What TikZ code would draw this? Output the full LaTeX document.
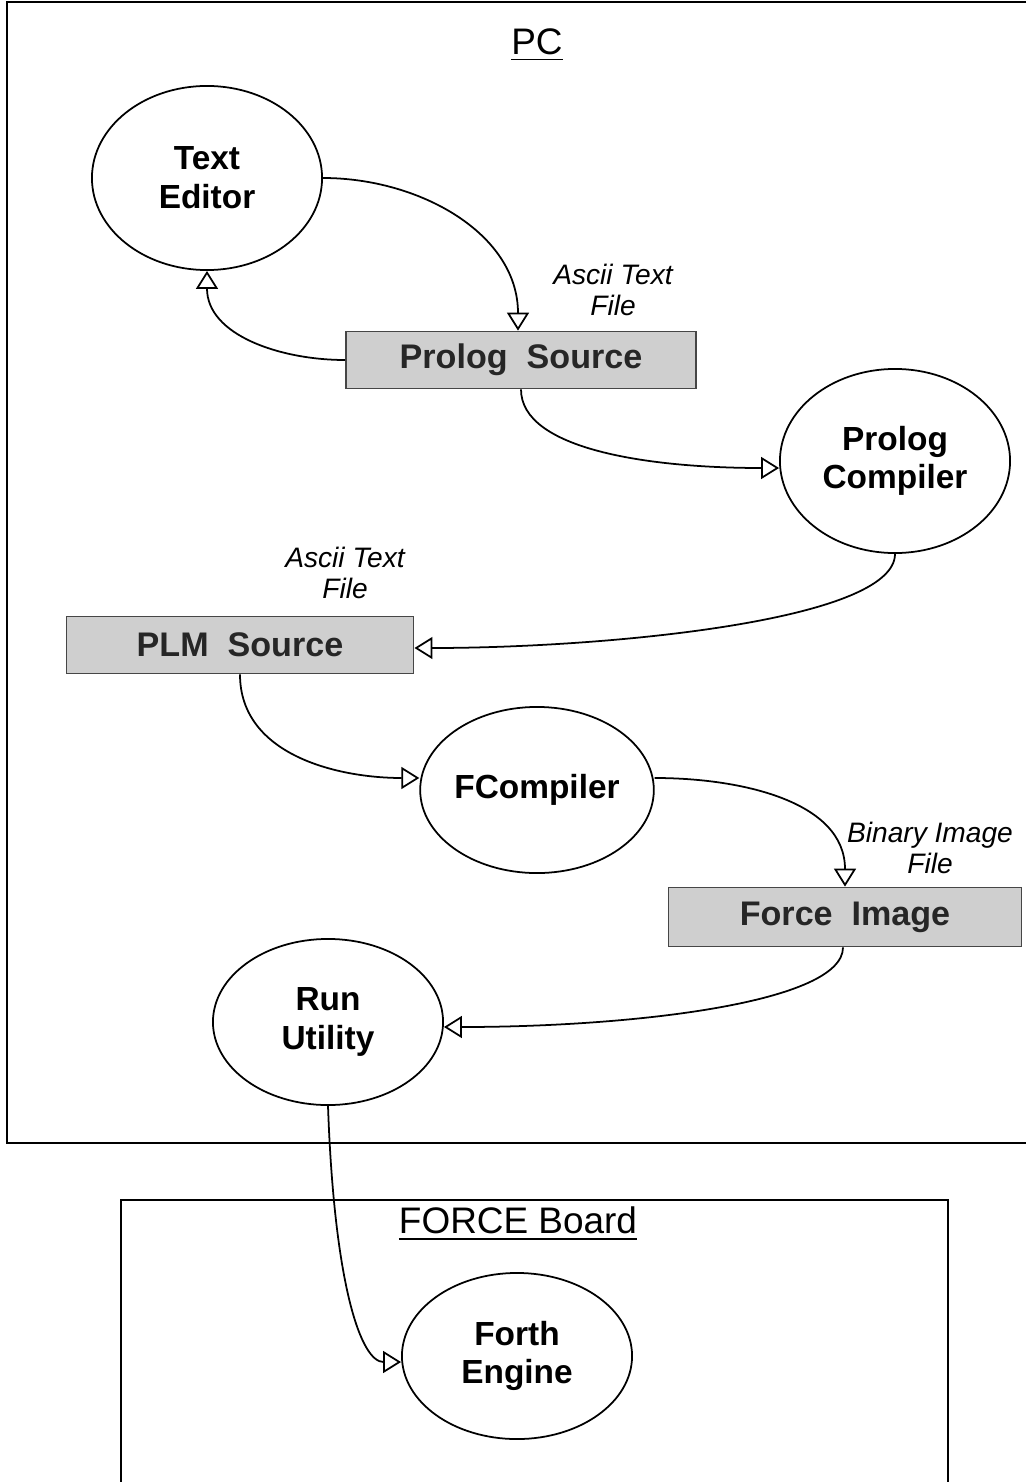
\documentclass[tikz,border=0pt]{standalone}
\usepackage{fontspec}
\setmainfont{Liberation Sans}
\usepackage{tikz}
\usetikzlibrary{arrows.meta}
\usetikzlibrary{shapes.geometric}
\usetikzlibrary{positioning}
\tikzset{
  proc_e/.style = {ellipse, draw=black, inner sep=0pt, align=center,
    minimum width=2.3cm, minimum height=1.66cm,
    font=\fontsize{9.5}{11}\selectfont\bfseries},% processus
  proc_t/.style = {proc_e, minimum height=1.84cm},% processus, haut
  file_b/.style = {rectangle, draw=gray!55!black, fill=gray!38,
    minimum width=3.5cm, minimum height=0.57cm, inner sep=0pt,
    text=black!85, font=\fontsize{9.7}{11}\selectfont\bfseries},% fichier
  file_l/.style = {align=center, inner sep=0pt,
    font=\fontsize{8}{9}\selectfont\itshape},% type de fichier
  frame_l/.style = {inner sep=0pt, font=\fontsize{10.5}{12}\selectfont}% cadre
}

\begin{document}
\begin{tikzpicture}[->,>={Triangle[open,length=1.8mm,width=2.2mm]},
  x=0.01cm,y=0.01cm,line width=0.5pt]
\useasboundingbox (0,0) rectangle (1026,-1482);

% cadres
\draw[-] (1026,-2) -- (7,-2) -- (7,-1143) -- (1026,-1143);
\draw[-] (121,-1482) -- (121,-1200) -- (948,-1200) -- (948,-1482);
\node[frame_l] (pc) at (537,-45) {\underline{PC}};
\node[frame_l] (fb) at (518,-1224) {\underline{FORCE Board}};

% noeuds
\node[proc_t] (te) at (207,-178) {Text\\Editor};
\node[file_b] (ps) at (521,-360) {Prolog\ \ Source};
\node[proc_t] (pcomp) at (895,-461) {Prolog\\Compiler};
\node[file_b, minimum width=3.47cm] (plm) at (240,-645) {PLM\ \ Source};
\node[proc_e] (fc) at (537,-790) {FCompiler};
\node[file_b, minimum width=3.53cm, minimum height=0.59cm] (fi) at (845,-917) {Force\ \ Image};
\node[proc_e] (ru) at (328,-1022) {Run\\Utility};
\node[proc_e] (fe) at (517,-1356) {Forth\\Engine};

\node[file_l] (l1) at (613,-290) {Ascii Text\\File};
\node[file_l] (l2) at (345,-573) {Ascii Text\\File};
\node[file_l] (l3) at (930,-848) {Binary Image\\File};

% fleches
\draw (te.east) to[out=0,in=90] ([xshift=-0.03cm]ps.north);
\draw (ps.west) to[out=180,in=-90] (te.south);
\draw (ps.south) to[out=-90,in=180,out distance=0.6cm,in distance=1.3cm] ([yshift=-0.07cm]pcomp.west);
\draw (pcomp.south) to[out=-90,in=0,out distance=0.67cm,in distance=1.9cm] ([yshift=-0.03cm]plm.east);
\draw (plm.south) to[out=-90,in=180] ([yshift=0.12cm]fc.west);
\draw ([yshift=0.12cm]fc.east) to[out=0,in=90] (fi.north);
\draw ([xshift=-0.02cm]fi.south) to[out=-90,in=0,out distance=0.55cm,in distance=1.9cm] ([yshift=-0.05cm]ru.east);
\draw (ru.south) to[out=-88,in=180,out distance=1.8cm,in distance=0.4cm] ([yshift=-0.06cm]fe.west);
\end{tikzpicture}
\end{document}
